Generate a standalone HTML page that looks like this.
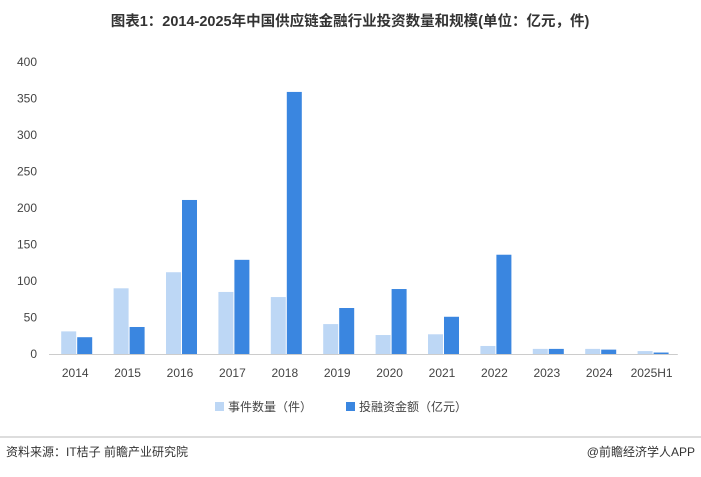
<!DOCTYPE html>
<html><head><meta charset="utf-8"><style>
body{margin:0;background:#fff;width:701px;height:472px;overflow:hidden;font-family:"Liberation Sans","Noto Sans CJK SC",sans-serif}
</style></head><body>
<svg width="701" height="472">
<text x="350" y="26" text-anchor="middle" font-size="14.5" font-weight="bold" fill="#333">图表1：2014-2025年中国供应链金融行业投资数量和规模(单位：亿元，件)</text>
<g id="axes"></g><g id="bars"></g>
<g>
<rect x="215" y="402" width="9" height="9" fill="#bdd7f5"/>
<text x="228" y="411" font-size="12" fill="#444">事件数量（件）</text>
<rect x="346" y="402" width="9" height="9" fill="#3a86e0"/>
<text x="359" y="411" font-size="12" fill="#444">投融资金额（亿元）</text>
</g>
<line x1="0" y1="437" x2="701" y2="437" stroke="#bbb" stroke-width="1"/>
<text x="6" y="456" font-size="12" fill="#333">资料来源：IT桔子 前瞻产业研究院</text>
<text x="695" y="456" font-size="12" fill="#333" text-anchor="end">@前瞻经济学人APP</text>
</svg>
<script>
const categories=["2014","2015","2016","2017","2018","2019","2020","2021","2022","2023","2024","2025H1"];
const counts=[31,90,112,85,78,41,26,27,11,7,7,4];
const amounts=[23,37,211,129,359,63,89,51,136,7,6,2];
const yTicks=[0,50,100,150,200,250,300,350,400];
const NS="http://www.w3.org/2000/svg";
const x0=49,step=52.4,y0=354,yTop=62,yMax=400;
const y=v=>y0-(v/yMax)*(y0-yTop);
const xc=i=>x0+step*(i+0.5);
const axes=document.getElementById('axes'),bars=document.getElementById('bars');
function mk(tag,attrs,parent){const e=document.createElementNS(NS,tag);for(const k in attrs)e.setAttribute(k,attrs[k]);parent.appendChild(e);return e;}
yTicks.forEach(t=>{
  const tx=mk('text',{x:37,y:y(t)+4,'text-anchor':'end','font-size':12,fill:'#444'},axes);
  tx.textContent=t;
  
  
});
const base=mk('line',{x1:x0,x2:x0+step*12,y1:y0+0.5,y2:y0+0.5,stroke:'#ccc'},axes);


categories.forEach((c,i)=>{
  const tx=mk('text',{x:xc(i),y:377,'text-anchor':'middle','font-size':12,fill:'#444'},axes);
  tx.textContent=c;
  
  
  const r1=mk('rect',{x:xc(i)-14,y:y(counts[i]),width:15,height:y0-y(counts[i]),fill:'#bdd7f5'},bars);
  
  
  const r2=mk('rect',{x:xc(i)+2,y:y(amounts[i]),width:15,height:y0-y(amounts[i]),fill:'#3a86e0'},bars);
  
  
});
</script>
</body></html>
